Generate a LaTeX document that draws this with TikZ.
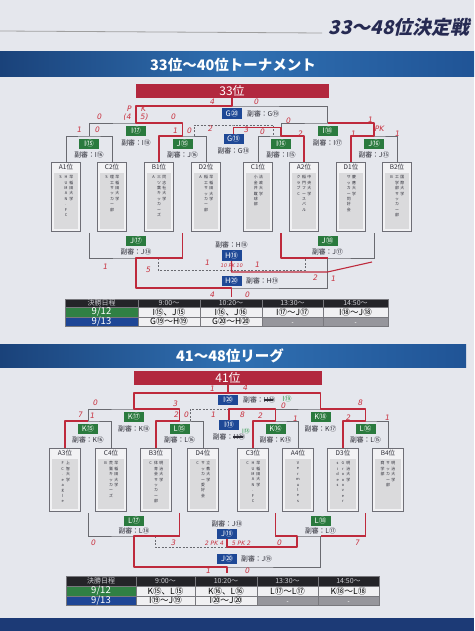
\documentclass[tikz,border=0pt]{standalone}
\usepackage{fontspec}
\setmainfont{Noto Sans CJK JP}
\newfontfamily\titlefont[FakeSlant=0.22]{Noto Sans CJK JP}
\newfontfamily\handfont[FakeSlant=0.18]{DejaVu Sans}
\usetikzlibrary{calc}
\definecolor{bgc}{RGB}{229,231,237}
\definecolor{navy}{RGB}{38,42,82}
\definecolor{bnA}{RGB}{26,66,122}
\definecolor{bnB}{RGB}{48,112,178}
\definecolor{bnC}{RGB}{32,84,150}
\definecolor{boxred}{RGB}{178,40,62}
\definecolor{labgreen}{RGB}{42,122,62}
\definecolor{labblue}{RGB}{30,72,150}
\definecolor{brkc}{RGB}{105,106,112}
\definecolor{redc}{RGB}{190,42,60}
\definecolor{handc}{RGB}{200,48,62}
\definecolor{handg}{RGB}{40,150,70}
\definecolor{txt}{RGB}{45,45,55}
\definecolor{teamfill}{RGB}{242,242,244}
\definecolor{teamdraw}{RGB}{110,110,118}
\definecolor{innerc}{RGB}{218,218,220}
\definecolor{headc}{RGB}{36,36,40}
\definecolor{headt}{RGB}{205,205,210}
\definecolor{cellc}{RGB}{240,240,242}
\definecolor{cellb}{RGB}{120,120,125}
\definecolor{hatchc}{RGB}{150,150,156}
\definecolor{dategreen}{RGB}{48,128,68}
\definecolor{dateblue}{RGB}{30,70,150}
\definecolor{bandc}{RGB}{28,58,118}

\def\tbvcolA#1{\ifx\relax#1\else\hbox to 4.6pt{\hss#1\hss}\expandafter\tbvcolA\fi}
\newcommand\tbvcol[1]{\vtop{\baselineskip=5.4pt\lineskiplimit=-10pt\lineskip=0pt\tbvcolA#1\relax}}
\newcommand\strk[1]{\rlap{\rule[0.22em]{1.35em}{0.25em}}#1}
\newcommand\tf{\fontsize{8.5}{8.5}\selectfont}
\newcommand\hf{\fontsize{7}{7}\selectfont}
\newcommand\df{\fontsize{9.5}{9.5}\selectfont}

\newcommand\teambox[8]{%
  \node[#4, anchor=north] (#1) at (#2,#3) {};
  \fill[innerc] ($(#1.north west)+(2.5,11)$) rectangle ($(#1.south east)+(-2.5,-2.5)$);
  \node[anchor=north, inner sep=0pt, font=\fontsize{6.5}{6.5}\selectfont, text=txt] (#1t) at ($(#1.north)+(0,2.2)$) {#5};
  \node[anchor=north, inner sep=0pt, font=\fontsize{3.9}{4}\selectfont, text=txt] (#1c) at ($(#1.north)+(0,13.5)$) {\tbvcol{#6}\hspace{0.8pt}\tbvcol{#7}\hspace{0.8pt}\tbvcol{#8}};
}
\newcommand\tcell[8]{\path[draw=cellb, line width=0.5, fill=#6] (#2,#3) rectangle (#4,#5) node[pos=.5, inner sep=0pt, text=#7] (#1) {#8};}

\begin{document}
\begin{tikzpicture}[x=1pt,y=-1pt,
  brk/.style={draw=brkc, line width=0.9},
  redl/.style={draw=redc, line width=1.1, line join=round},
  dsh/.style={dash pattern=on 2pt off 1.5pt},
  glab/.style={fill=labgreen, text=white, font=\fontsize{7.5}{7.5}\selectfont, inner sep=0pt, minimum width=20, minimum height=10.5},
  blab/.style={glab, fill=labblue},
  ref/.style={font=\fontsize{6.8}{6.8}\selectfont, text=txt, inner sep=0pt},
  hand/.style={font=\handfont\fontsize{7.5}{7.5}\selectfont, text=handc, inner sep=0pt},
  teamU/.style={draw=teamdraw, fill=teamfill, line width=0.7, minimum width=29, minimum height=69, inner sep=0pt},
  teamL/.style={teamU, minimum width=31, minimum height=63},
  rbox/.style={fill=boxred, text=white, font=\fontsize{12}{12}\selectfont, inner sep=0pt, minimum height=14}]
\useasboundingbox (0,0) rectangle (474,631);
\fill[bgc] (0,0) rectangle (474,631);

% title
\draw[gray!75, line width=0.8] (0,31) -- (322,33);
\node[anchor=east, font=\titlefont\bfseries\fontsize{19}{19}\selectfont, text=navy, inner sep=0pt] (title) at (470,27) {33～48位決定戦};

% banners
\shade[left color=bnA, right color=bnC, middle color=bnB] (0,52) rectangle (474,77);
\node[font=\bfseries\fontsize{14.5}{14.5}\selectfont, text=white, inner sep=0pt] (ban1) at (233,65) {33位～40位トーナメント};
\shade[left color=bnA, right color=bnC, middle color=bnB] (0,344) rectangle (466,367);
\node[font=\bfseries\fontsize{14.5}{14.5}\selectfont, text=white, inner sep=0pt] (ban2) at (230,356) {41～48位リーグ};

% red boxes
\node[rbox, minimum width=193] (r33) at (232,91) {33位};
\node[rbox, minimum width=188] (r41) at (228,378) {41位};

% ---------- upper teams ----------
\teambox{A1}{66}{162}{teamU}{A1位}{S}{HUMAN.FC}{早稲田大学}
\teambox{C2}{112}{162}{teamU}{C2位}{S}{理工サッカー部}{早稲田大学}
\teambox{B1}{159}{162}{teamU}{B1位}{A}{三ツ葉キッカーズ}{同志社大学}
\teambox{D2}{206}{162}{teamU}{D2位}{A}{稲工サッカー部}{早稲田大学}
\teambox{C1}{258}{162}{teamU}{C1位}{}{小金井蹴球部}{法政大学}
\teambox{A2}{304}{162}{teamU}{A2位}{クラブC}{稲門フースバル}{中央大学}
\teambox{D1}{351}{162}{teamU}{D1位}{}{サッカー同好会}{慶應大学}
\teambox{B2}{397}{162}{teamU}{B2位}{B}{工学部サッカー部}{国際大学}

\coordinate (pI15) at (89,136);
\coordinate (pJ15) at (182.5,136);
\coordinate (pI16) at (281,136);
\coordinate (pJ16) at (374,136);
\coordinate (pI17) at (136,123);
\coordinate (pI18) at (327.5,123);
\coordinate (pG20) at (232,106);
\coordinate (gd1) at (194,136);
\coordinate (gd2) at (233.5,125);
\coordinate (gd3) at (273,136);
\coordinate (lu1) at (89,233);
\coordinate (lu2) at (182.5,233);
\coordinate (lu3) at (281,233);
\coordinate (lu4) at (374,233);
\coordinate (qJ17) at (136,258);
\coordinate (qJ18) at (327.5,258);
\coordinate (hd1) at (158,258);
\coordinate (hd2) at (231.5,270);
\coordinate (hd3) at (305,258);
\coordinate (qH20) at (231.5,288);

\draw[brk] (A1.north) |- (pI15) -| (C2.north);
\draw[brk] (B1.north) |- (pJ15) -| (D2.north);
\draw[brk] (C1.north) |- (pI16) -| (A2.north);
\draw[brk] (D1.north) |- (pJ16) -| (B2.north);
\draw[brk] (pI15) |- (pI17) -| (pJ15);
\draw[brk] (pI16) |- (pI18) -| (pJ16);
\draw[brk] (pI17) |- (pG20) -| (pI18);
\draw[brk] (pG20) -- (r33.south);
\draw[brk, dsh] (gd1) |- (gd2) -| (gd3);
\draw[brk] (lu1) |- (qJ17) -| (lu2);
\draw[brk] (lu3) |- (qJ18) -| (lu4);
\draw[brk, dsh] (hd1) |- (hd2) -| (hd3);
\draw[brk] (qJ17) |- (qH20) -| (qJ18);

% upper labels
\node[glab] (I15) at (89,144) {I⑮};
\node[ref] (I15r) at (89,155) {副審：I⑯};
\node[glab] (J15) at (182.5,144) {J⑮};
\node[ref] (J15r) at (182.5,155) {副審：J⑯};
\node[glab] (I16) at (281,144) {I⑯};
\node[ref] (I16r) at (281,155) {副審：I⑮};
\node[glab] (J16) at (374,144) {J⑯};
\node[ref] (J16r) at (374,155) {副審：J⑮};
\node[glab] (I17) at (136,131) {I⑰};
\node[ref] (I17r) at (136,143) {副審：I⑱};
\node[glab] (I18) at (327.5,131) {I⑱};
\node[ref] (I18r) at (327.5,143) {副審：I⑰};
\node[blab] (G20) at (232,113.5) {G⑳};
\node[ref, anchor=west] (G20r) at (247,113.5) {副審：G⑲};
\node[blab] (G19) at (233.5,139) {G⑲};
\node[ref] (G19r) at (233.5,151) {副審：G⑱};
\node[glab] (J17) at (136,241) {J⑰};
\node[ref] (J17r) at (136,251.5) {副審：J⑱};
\node[glab] (J18) at (327.5,241) {J⑱};
\node[ref] (J18r) at (327.5,251.5) {副審：J⑰};
\node[ref] (H19r) at (231.5,245) {副審：H⑱};
\node[blab] (H19) at (231.5,255.5) {H⑲};
\node[blab] (H20) at (231.5,281) {H⑳};
\node[ref, anchor=west] (H20r) at (246,281) {副審：H⑲};

% upper red
\draw[redl] (r33.south) -- (pG20) -- (pI17 |- pG20) -- (pI17) -- (pJ15 |- pI17) -- (pJ15) -- (B1.north |- pJ15) -- (B1.north);
\draw[redl] (G19.north) |- (281,127.5) -- (pI16) -| (A2.north);
\draw[redl] (D1.north) |- (pJ16) |- (pI18);
\draw[redl] (lu2) |- (qJ17) |- (qH20) -- ++(0,9);
\draw[redl] (lu3) |- (qJ18);
\draw[redl] (H19.south) -- (231.5,272) -- (327.5,272) -- (372,262);

% ---------- lower teams ----------
\teambox{A3}{65}{448}{teamL}{A3位}{}{FC.eagle}{上智大学}
\teambox{C4}{111}{448}{teamL}{C4位}{B}{荒鷲キッカーズ}{早稲田大学}
\teambox{B3}{156}{448}{teamL}{B3位}{C}{体育会サッカー部}{明治大学}
\teambox{D4}{203}{448}{teamL}{D4位}{C}{サッカー愛好会}{立教大学}
\teambox{C3}{253}{448}{teamL}{C3位}{C}{HUMAN.FC}{早稲田大学}
\teambox{A4}{298}{448}{teamL}{A4位}{}{Vermules}{}
\teambox{D3}{343}{448}{teamL}{D3位}{sides}{Grooover}{明治大学}
\teambox{B4}{388}{448}{teamL}{B4位}{商学部}{サッカー部}{明治大学}

\coordinate (pK15) at (88,421);
\coordinate (pL15) at (179.5,421);
\coordinate (pK16) at (275.5,421);
\coordinate (pL16) at (365.5,421);
\coordinate (pK17) at (134,409);
\coordinate (pK18) at (320.5,409);
\coordinate (pI20) at (228,393);
\coordinate (id1) at (190,421);
\coordinate (ll1) at (88,513);
\coordinate (ll2) at (179.5,513);
\coordinate (ll3) at (275.5,513);
\coordinate (ll4) at (365.5,513);
\coordinate (qL17) at (134,536);
\coordinate (qL18) at (320.5,536);
\coordinate (jd1) at (155,536);
\coordinate (jd2) at (227,547);
\coordinate (jd3) at (297,536);
\coordinate (qJ20) at (227,567);

\draw[brk] (A3.north) |- (pK15) -| (C4.north);
\draw[brk] (B3.north) |- (pL15) -| (D4.north);
\draw[brk] (C3.north) |- (pK16) -| (A4.north);
\draw[brk] (D3.north) |- (pL16) -| (B4.north);
\draw[brk] (pK15) |- (pK17) -| (pL15);
\draw[brk] (pK16) |- (pK18) -| (pL16);
\draw[brk] (pK17) |- (pI20) -| (pK18);
\draw[brk] (pI20) -- (r41.south);
\draw[brk, dsh] (id1) |- (pK16 |- pK18);
\draw[brk] (ll1) |- (qL17) -| (ll2);
\draw[brk] (ll3) |- (qL18) -| (ll4);
\draw[brk, dsh] (jd1) |- (jd2) -| (jd3);
\draw[brk] (qL17) |- (qJ20) -| (qL18);

% lower labels
\node[blab] (I20) at (228,400) {I⑳};
\node[ref, anchor=west] (I20r) at (243,400) {副審：\strk{H⑲}};
\node[glab] (K17) at (134,417) {K⑰};
\node[ref] (K17r) at (134,428.5) {副審：K⑱};
\node[glab] (K18) at (320.5,417) {K⑱};
\node[ref] (K18r) at (320.5,428.5) {副審：K⑰};
\node[blab] (I19) at (229,425) {I⑲};
\node[ref] (I19r) at (229,437) {副審：\strk{H⑲}};
\node[glab] (K15) at (88,429) {K⑮};
\node[ref] (K15r) at (88,440) {副審：K⑯};
\node[glab] (L15) at (179.5,429) {L⑮};
\node[ref] (L15r) at (179.5,440) {副審：L⑯};
\node[glab] (K16) at (275.5,429) {K⑯};
\node[ref] (K16r) at (275.5,440) {副審：K⑮};
\node[glab] (L16) at (365.5,429) {L⑯};
\node[ref] (L16r) at (365.5,440) {副審：L⑮};
\node[glab] (L17) at (134,521) {L⑰};
\node[ref] (L17r) at (134,531) {副審：L⑱};
\node[glab] (L18) at (320.5,521) {L⑱};
\node[ref] (L18r) at (320.5,531) {副審：L⑰};
\node[ref] (J19r) at (227,524) {副審：J⑱};
\node[blab] (J19) at (227,534) {J⑲};
\node[blab] (J20) at (227,559) {J⑳};
\node[ref, anchor=west] (J20r) at (241,559) {副審：J⑲};

% lower red
\draw[redl] (r41.south) -- (pI20) -- (pK17 |- pI20) -- (pK17) -- (pL15 |- pK17) -- (pL15) -- (B3.north |- pL15) -- (B3.north);
\draw[redl] (pI20) -- (pK18 |- pI20) -- (pK18) -- (pL16 |- pK18) -- (pL16) -- (D3.north |- pL16) -- (D3.north);
\draw[redl] (A3.north) |- (pK15);
\draw[redl] (C3.north) |- (pK16) -- (pK16 |- pK18) -- (I19.north |- pK18) -- (I19.north);
\draw[redl] (ll2) |- (qL17) |- (qJ20) -- ++(0,6);
\draw[redl] (ll3) |- (jd3) |- (jd2) -- (J19.south);
\draw[redl] (ll4) |- (qL18);

% ---------- tables ----------
\tcell{ua0}{65}{299}{138}{307}{headc}{headt}{\hf 決勝日程}
\tcell{ua1}{138}{299}{200}{307}{headc}{headt}{\hf 9:00～}
\tcell{ua2}{200}{299}{262}{307}{headc}{headt}{\hf 10:20～}
\tcell{ua3}{262}{299}{323}{307}{headc}{headt}{\hf 13:30～}
\tcell{ua4}{323}{299}{388}{307}{headc}{headt}{\hf 14:50～}
\tcell{ub0}{65}{307}{138}{317}{dategreen}{white}{\df 9/12}
\tcell{ub1}{138}{307}{200}{317}{cellc}{black}{\tf I⑮、J⑮}
\tcell{ub2}{200}{307}{262}{317}{cellc}{black}{\tf I⑯、J⑯}
\tcell{ub3}{262}{307}{323}{317}{cellc}{black}{\tf I⑰～J⑰}
\tcell{ub4}{323}{307}{388}{317}{cellc}{black}{\tf I⑱～J⑱}
\tcell{uc0}{65}{317}{138}{326}{dateblue}{white}{\df 9/13}
\tcell{uc1}{138}{317}{200}{326}{cellc}{black}{\tf G⑲～H⑲}
\tcell{uc2}{200}{317}{262}{326}{cellc}{black}{\tf G⑳～H⑳}
\tcell{uc3}{262}{317}{323}{326}{hatchc}{black}{}
\tcell{uc4}{323}{317}{388}{326}{hatchc}{black}{}
\draw[white!75!gray, line width=0.5] (uc3.south west) -- ($(uc3.north east)+(0,2)$);
\draw[white!75!gray, line width=0.5] (uc4.south west) -- ($(uc4.north east)+(0,2)$);

\tcell{la0}{66}{576}{136}{586}{headc}{headt}{\hf 決勝日程}
\tcell{la1}{136}{576}{195}{586}{headc}{headt}{\hf 9:00～}
\tcell{la2}{195}{576}{257}{586}{headc}{headt}{\hf 10:20～}
\tcell{la3}{257}{576}{318}{586}{headc}{headt}{\hf 13:30～}
\tcell{la4}{318}{576}{379}{586}{headc}{headt}{\hf 14:50～}
\tcell{lb0}{66}{586}{136}{596}{dategreen}{white}{\df 9/12}
\tcell{lb1}{136}{586}{195}{596}{cellc}{black}{\tf K⑮、L⑮}
\tcell{lb2}{195}{586}{257}{596}{cellc}{black}{\tf K⑯、L⑯}
\tcell{lb3}{257}{586}{318}{596}{cellc}{black}{\tf L⑰～L⑰}
\tcell{lb4}{318}{586}{379}{596}{cellc}{black}{\tf K⑱～L⑱}
\tcell{lc0}{66}{596}{136}{605}{dateblue}{white}{\df 9/13}
\tcell{lc1}{136}{596}{195}{605}{cellc}{black}{\tf I⑲～J⑲}
\tcell{lc2}{195}{596}{257}{605}{cellc}{black}{\tf I⑳～J⑳}
\tcell{lc3}{257}{596}{318}{605}{hatchc}{black}{}
\tcell{lc4}{318}{596}{379}{605}{hatchc}{black}{}
\draw[white!75!gray, line width=0.5] (lc3.south west) -- ($(lc3.north east)+(0,2)$);
\draw[white!75!gray, line width=0.5] (lc4.south west) -- ($(lc4.north east)+(0,2)$);

% handwritten scores
\foreach \p/\t [count=\i] in {{212,102}/4, {256,102}/0, {99,117}/0, {129,109}/P, {143,109}/K, {127,117}/(4, {144,117}/5), {173,117}/0,
  {79,130}/1, {97,130}/0, {175,131}/1, {189,131}/0, {210,129}/2, {246,130}/3, {288,121}/0, {262,132}/0, {300,134}/2,
  {370,120}/1, {353,134}/1, {379,129}/PK, {397,134}/1,
  {105,267}/1, {148,270}/5, {207,263}/1, {257,265}/1, {315,278}/2, {333,279}/1, {212,295}/4, {247,295}/0,
  {212,389}/1, {245,388}/4, {95,403}/0, {175,404}/3, {283,406}/0, {360,403}/8, {80,415}/7, {92,416}/1, {176,415}/2,
  {186,415}/0, {213,415}/1, {242,415}/8, {260,416}/2, {295,419}/1, {348,418}/2, {387,418}/1,
  {93,543}/0, {173,543}/3, {279,543}/0, {357,543}/7, {208,571}/1, {247,571}/0}
  \node[hand] (hw\i) at (\p) {\t};
\node[hand, font=\handfont\fontsize{5}{5}\selectfont] (hwpk1) at (231.5,266) {10 PK 10};
\node[hand, font=\handfont\fontsize{6}{6}\selectfont] (hwpk2) at (214,543) {2 PK 4};
\node[hand, font=\handfont\fontsize{6}{6}\selectfont] (hwpk3) at (241,543) {5 PK 2};
\node[hand, text=handg, font=\fontsize{7}{7}\selectfont] (hwg1) at (287,399) {I⑲};
\node[hand, text=handg, font=\fontsize{6}{6}\selectfont] (hwg2) at (246,431) {I⑱};

% bottom band
\fill[bandc] (0,618) rectangle (474,631);
\end{tikzpicture}
\end{document}
